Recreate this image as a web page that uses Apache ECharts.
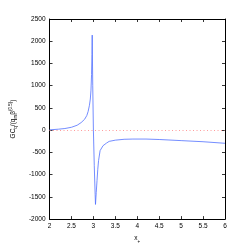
<!DOCTYPE html>
<html><head><meta charset="utf-8">
<script src="https://cdn.jsdelivr.net/npm/echarts@6/dist/echarts.min.js"></script>
<style>html,body{margin:0;padding:0;background:#fff}#c{width:249px;height:249px}</style>
</head><body><div id="c"></div>
<script>
const xValues = [2.0, 2.2, 2.35, 2.5, 2.63, 2.72, 2.8, 2.85, 2.88, 2.91, 2.93, 2.945, 2.958, 2.967, 2.973, 2.985, 3.0, 3.02, 3.04, 3.048, 3.065, 3.083, 3.1, 3.118, 3.153, 3.22, 3.3, 3.36, 3.5, 3.7, 3.9, 4.2, 4.5, 5.0, 5.5, 6.0];
const yValues = [7, 22, 37, 65, 111, 170, 245, 330, 420, 560, 700, 900, 1250, 1700, 2138, 1000, 0, -800, -1450, -1670, -1400, -1129, -880, -683, -460, -349, -290, -252, -225, -205, -200, -200, -210, -235, -260, -295];
const xTicks = [2, 2.5, 3, 3.5, 4, 4.5, 5, 5.5, 6];
const yTicks = [-2000, -1500, -1000, -500, 0, 500, 1000, 1500, 2000, 2500];

const font = '"Liberation Sans Narrow", "Liberation Sans", Arial, sans-serif';
const chart = echarts.init(document.getElementById('c'), null, {renderer: 'canvas'});
const axisCommon = {
  axisLine: {show: true, onZero: false, lineStyle: {color: '#000', width: 1}},
  axisTick: {show: true, inside: true, length: 3, lineStyle: {color: '#000', width: 0.8}},
  splitLine: {show: false},
  axisLabel: {fontFamily: font, fontSize: 6.5, color: '#000', margin: 4, formatter: v => String(v)}
};
chart.setOption({
  animation: false,
  grid: {left: 33, right: 24, top: 19, bottom: 28, containLabel: false},
  xAxis: [
    Object.assign({}, axisCommon, {type: 'value', min: xTicks[0], max: xTicks[xTicks.length-1], interval: 0.5,
      name: '{n|x}{s|+}', nameLocation: 'middle', nameGap: 13,
      nameTextStyle: {rich: {n: {fontFamily: font, fontSize: 6.5, color: '#000'}, s: {fontFamily: font, fontSize: 4.5, color: '#000', verticalAlign: 'bottom', padding: [6,0,0,0]}}}}),
    Object.assign({}, axisCommon, {type: 'value', position: 'top', min: xTicks[0], max: xTicks[xTicks.length-1], interval: 0.5, axisLabel: {show: false}})
  ],
  yAxis: [
    Object.assign({}, axisCommon, {type: 'value', min: yTicks[0], max: yTicks[yTicks.length-1], interval: 500,
      name: '{n|GC}{s|q}{n|/(q}{s|m}{n|β}{p|(0.5)}{n|)}', nameLocation: 'middle', nameGap: 24,
      nameTextStyle: {rich: {
        n: {fontFamily: font, fontSize: 6.5, color: '#000'},
        s: {fontFamily: font, fontSize: 4.5, color: '#000', padding: [5,0,0,0]},
        p: {fontFamily: font, fontSize: 4.5, color: '#000', padding: [0,0,5,0]}
      }}}),
    Object.assign({}, axisCommon, {type: 'value', position: 'right', min: yTicks[0], max: yTicks[yTicks.length-1], interval: 500, axisLabel: {show: false}})
  ],
  series: [{
    type: 'line',
    data: xValues.map((x, i) => [x, yValues[i]]),
    showSymbol: false,
    lineStyle: {color: '#5070ff', width: 0.8},
    markLine: {
      silent: true, symbol: ['none', 'none'], label: {show: false},
      lineStyle: {color: '#ff9090', type: [1, 2.5], width: 0.9},
      data: [{yAxis: 0}]
    }
  }]
});
</script></body></html>
